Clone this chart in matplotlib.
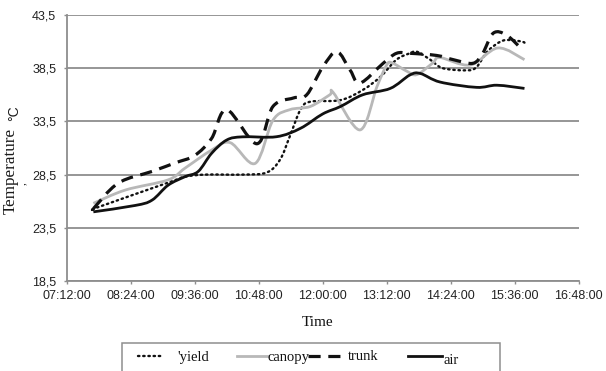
import matplotlib
matplotlib.use("Agg")
import matplotlib.pyplot as plt
from matplotlib.path import Path
from matplotlib.patches import PathPatch, Rectangle
from matplotlib.lines import Line2D

# Readings (clock time, temperature in °C)
yield_time = ["07:42", "07:46", "09:08", "09:25", "09:48", "10:30", "10:57", "11:12",
              "11:23", "11:35", "11:46", "12:20", "12:45", "13:05", "13:23", "13:38",
              "13:46", "14:01", "14:15", "14:42", "14:53", "15:05", "15:20", "15:31",
              "15:44", "15:47"]
yield_temp = [25.2, 25.4, 27.8, 28.3, 28.5, 28.5, 28.7, 29.9,
              32.1, 34.6, 35.35, 35.5, 36.45, 37.7, 39.3, 39.9,
              40.05, 39.3, 38.5, 38.3, 38.6, 40.05, 41.0, 41.15,
              41.0, 40.9]

canopy_time = ["07:42", "08:18", "09:06", "09:25", "09:55", "10:16", "10:44", "11:04",
               "11:23", "11:46", "12:08", "12:12", "12:42", "13:01", "13:12", "13:18",
               "13:35", "13:46", "14:04", "14:12", "14:46", "15:17", "15:47"]
canopy_temp = [25.8, 27.05, 28.0, 29.1, 30.8, 31.5, 29.55, 33.6,
               34.6, 34.9, 36.0, 36.2, 32.7, 36.76, 38.8, 39.0,
               38.2, 37.9, 39.0, 39.5, 38.8, 40.4, 39.3]

trunk_time = ["07:42", "08:10", "08:48", "09:14", "09:36", "09:55", "10:12", "10:46",
              "11:04", "11:27", "11:42", "12:00", "12:16", "12:31", "12:42", "13:08",
              "13:23", "13:38", "14:08", "14:27", "14:49", "15:00", "15:12", "15:27",
              "15:45"]
trunk_temp = [25.3, 27.7, 28.8, 29.6, 30.3, 31.9, 34.6, 31.4,
              34.9, 35.7, 36.0, 38.6, 40.05, 38.3, 37.1, 38.96,
              39.9, 39.9, 39.7, 39.3, 38.96, 39.9, 41.8, 41.6,
              40.2]

air_time = ["07:42", "08:29", "08:48", "09:06", "09:25", "09:40", "09:55", "10:12",
            "10:30", "11:08", "11:35", "12:00", "12:20", "12:45", "13:16", "13:38",
            "13:50", "14:12", "14:53", "15:16", "15:47"]
air_temp = [25.0, 25.6, 26.1, 27.5, 28.3, 28.8, 30.5, 31.75,
            32.05, 32.06, 32.85, 34.2, 34.9, 36.0, 36.6, 37.86,
            38.0, 37.2, 36.7, 36.9, 36.6]

x_ticks = ["07:12:00", "08:24:00", "09:36:00", "10:48:00", "12:00:00",
           "13:12:00", "14:24:00", "15:36:00", "16:48:00"]
y_ticks = [18.5, 23.5, 28.5, 33.5, 38.5, 43.5]


def hours(stamp):
    parts = [int(p) for p in stamp.split(":")]
    while len(parts) < 3:
        parts.append(0)
    return parts[0] + parts[1] / 60 + parts[2] / 3600


def smooth_path(xs, ys):
    """Catmull-Rom curve through the points, as cubic Bezier segments."""
    pts = list(zip(xs, ys))
    verts = [pts[0]]
    codes = [Path.MOVETO]
    n = len(pts)
    for i in range(n - 1):
        p0 = pts[i - 1] if i > 0 else pts[i]
        p1 = pts[i]
        p2 = pts[i + 1]
        p3 = pts[i + 2] if i + 2 < n else pts[i + 1]
        c1 = (p1[0] + (p2[0] - p0[0]) / 6, p1[1] + (p2[1] - p0[1]) / 6)
        c2 = (p2[0] - (p3[0] - p1[0]) / 6, p2[1] - (p3[1] - p1[1]) / 6)
        verts += [c1, c2, p2]
        codes += [Path.CURVE4] * 3
    return Path(verts, codes)


W, H = 606, 371
fig = plt.figure(figsize=(W / 100, H / 100), dpi=100)
ax = fig.add_axes([66.7 / W, 1 - 281 / H, (578.7 - 66.7) / W, (281 - 15) / H])

grid_col = "#8e8e8e"
for v in y_ticks:
    ax.axhline(v, color=grid_col, lw=1.3, zorder=1)

styles = [
    dict(color="#111111", lw=1.7, linestyle=(0, (0.6, 1.6))),
    dict(color="#b8b8b8", lw=2.0, linestyle="-"),
    dict(color="#111111", lw=2.3, linestyle=(0, (3.8, 2.4))),
    dict(color="#111111", lw=2.0, linestyle="-"),
]
caps = ["round", "butt", "butt", "butt"]
data = [(yield_time, yield_temp), (canopy_time, canopy_temp),
        (trunk_time, trunk_temp), (air_time, air_temp)]

for (t, v), style, cap in zip(data, styles, caps):
    xs = [hours(s) for s in t]
    patch = PathPatch(smooth_path(xs, v), fill=False, zorder=3, capstyle=cap,
                      joinstyle="round", **style)
    ax.add_patch(patch)

xt = [hours(s) for s in x_ticks]
ax.set_xlim(xt[0], xt[-1])
ax.set_ylim(y_ticks[0], y_ticks[-1])
ax.set_xticks(xt)
ax.set_xticklabels(x_ticks)
ax.set_yticks(y_ticks)
ax.set_yticklabels([f"{v:.1f}".replace(".", ",") for v in y_ticks])

for side in ("top", "right"):
    ax.spines[side].set_visible(False)
for side in ("left", "bottom"):
    ax.spines[side].set_color(grid_col)
    ax.spines[side].set_linewidth(1.3)
ax.tick_params(axis="both", direction="out", length=2.5, width=1.0, color=grid_col,
               labelsize=9, labelcolor="#222222")
ax.tick_params(axis="y", pad=5)
ax.tick_params(axis="x", pad=4)
for lab in ax.get_xticklabels() + ax.get_yticklabels():
    lab.set_fontfamily("Liberation Sans")

serif = "Liberation Serif"
fig.text(318 / W, 1 - 323 / H, "Time", fontsize=11, family=serif,
         ha="center", va="center", color="#111111")
fig.text(11 / W, 1 - 171 / H, "Temperature", fontsize=12.3, family=serif,
         rotation=90, ha="center", va="center", color="#1a1a1a")
fig.text(14 / W, 1 - 113 / H, "°C", fontsize=10, family="Liberation Sans",
         rotation=90, ha="center", va="center", color="#1a1a1a")
fig.text(22 / W, 1 - 184 / H, ",", fontsize=8, family=serif,
         rotation=90, ha="center", va="center", color="#1a1a1a")

# Legend box (runs off the bottom edge)
box = Rectangle((122 / W, 1 - 380 / H), (500 - 122) / W, (380 - 343.3) / H,
                transform=fig.transFigure, facecolor="white", edgecolor="#8e8e8e",
                lw=1.1)
fig.add_artist(box)

legend_items = [
    (138, 163, 177, "'yield", 358),
    (237, 268, 268, "canopy", 357),
    (308, 345, 348, "trunk", 356),
    (408, 442, 443, "air", 360),
]
for (x0, x1, xtxt, label, ytxt), style, cap in zip(legend_items, styles, caps):
    yl = 1 - 356 / H
    fig.add_artist(Line2D([x0 / W, x1 / W], [yl, yl], transform=fig.transFigure,
                          dash_capstyle=cap, **style))
    fig.text(xtxt / W, 1 - ytxt / H, label, fontsize=10.5, family=serif,
             ha="left", va="center", color="#111111")

fig.savefig("out.png", dpi=100)
